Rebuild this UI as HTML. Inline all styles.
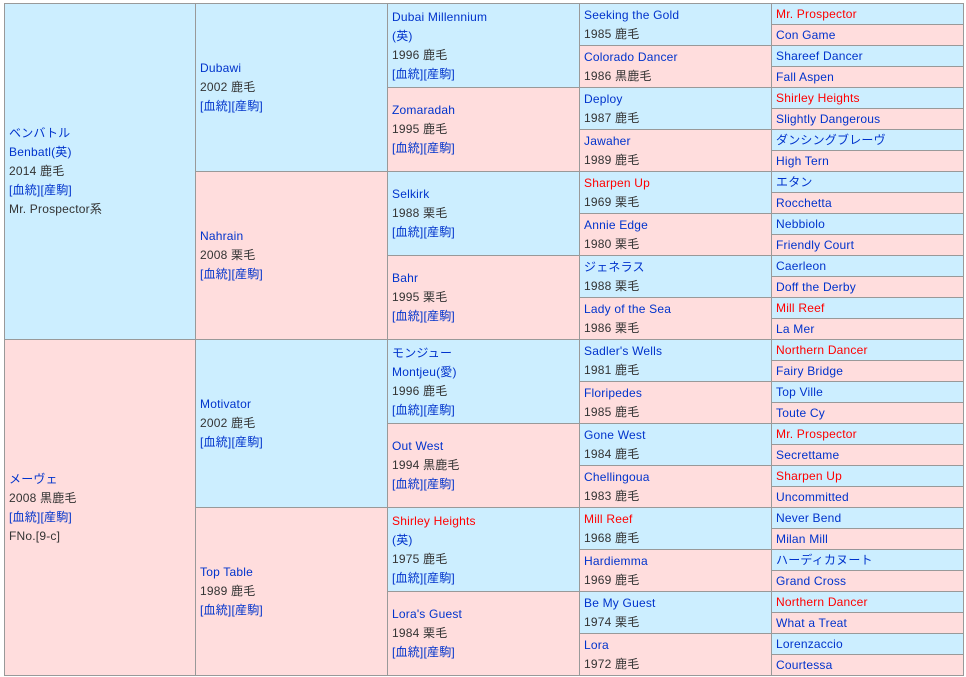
<!DOCTYPE html>
<html><head><meta charset="utf-8"><style>
body{margin:0;width:966px;height:677px;background:#fff;position:relative;overflow:hidden;font-family:"Liberation Sans","Noto Sans CJK JP",sans-serif;font-size:12px;color:#333}
.c{position:absolute;box-sizing:border-box;border:1px solid #999;display:flex;align-items:center;padding-left:4px;line-height:19px;letter-spacing:0.2px}
.b{background:#cceeff}.p{background:#ffdddd}
.g1{left:4px;width:192px;height:337px}.g2{left:195px;width:193px;height:169px}.g3{left:387px;width:193px;height:85px}.g4{left:579px;width:193px;height:43px}.g5{left:771px;width:193px;height:22px}
a,.l{color:#0033cc;text-decoration:none}.r{color:#ff0000}
</style></head><body>
<div class="c b g1" style="top:3px"><div><span class="l">ベンバトル<br>Benbatl(英)</span><br>2014 鹿毛<br><span class="l">[血統][産駒]</span><br>Mr. Prospector系</div></div>
<div class="c p g1" style="top:339px"><div><span class="l">メーヴェ</span><br>2008 黒鹿毛<br><span class="l">[血統][産駒]</span><br>FNo.[9-c]</div></div>

<div class="c b g2" style="top:3px"><div><span class="l">Dubawi</span><br>2002 鹿毛<br><span class="l">[血統][産駒]</span></div></div>
<div class="c p g2" style="top:171px"><div><span class="l">Nahrain</span><br>2008 栗毛<br><span class="l">[血統][産駒]</span></div></div>
<div class="c b g2" style="top:339px"><div><span class="l">Motivator</span><br>2002 鹿毛<br><span class="l">[血統][産駒]</span></div></div>
<div class="c p g2" style="top:507px"><div><span class="l">Top Table</span><br>1989 鹿毛<br><span class="l">[血統][産駒]</span></div></div>

<div class="c b g3" style="top:3px"><div><span class="l">Dubai Millennium<br>(英)</span><br>1996 鹿毛<br><span class="l">[血統][産駒]</span></div></div>
<div class="c p g3" style="top:87px"><div><span class="l">Zomaradah</span><br>1995 鹿毛<br><span class="l">[血統][産駒]</span></div></div>
<div class="c b g3" style="top:171px"><div><span class="l">Selkirk</span><br>1988 栗毛<br><span class="l">[血統][産駒]</span></div></div>
<div class="c p g3" style="top:255px"><div><span class="l">Bahr</span><br>1995 栗毛<br><span class="l">[血統][産駒]</span></div></div>
<div class="c b g3" style="top:339px"><div><span class="l">モンジュー<br>Montjeu(愛)</span><br>1996 鹿毛<br><span class="l">[血統][産駒]</span></div></div>
<div class="c p g3" style="top:423px"><div><span class="l">Out West</span><br>1994 黒鹿毛<br><span class="l">[血統][産駒]</span></div></div>
<div class="c b g3" style="top:507px"><div><span class="r">Shirley Heights</span><br><span class="l">(英)</span><br>1975 鹿毛<br><span class="l">[血統][産駒]</span></div></div>
<div class="c p g3" style="top:591px"><div><span class="l">Lora's Guest</span><br>1984 栗毛<br><span class="l">[血統][産駒]</span></div></div>

<div class="c b g4" style="top:3px"><div><span class="l">Seeking the Gold</span><br>1985 鹿毛</div></div>
<div class="c p g4" style="top:45px"><div><span class="l">Colorado Dancer</span><br>1986 黒鹿毛</div></div>
<div class="c b g4" style="top:87px"><div><span class="l">Deploy</span><br>1987 鹿毛</div></div>
<div class="c p g4" style="top:129px"><div><span class="l">Jawaher</span><br>1989 鹿毛</div></div>
<div class="c b g4" style="top:171px"><div><span class="r">Sharpen Up</span><br>1969 栗毛</div></div>
<div class="c p g4" style="top:213px"><div><span class="l">Annie Edge</span><br>1980 栗毛</div></div>
<div class="c b g4" style="top:255px"><div><span class="l">ジェネラス</span><br>1988 栗毛</div></div>
<div class="c p g4" style="top:297px"><div><span class="l">Lady of the Sea</span><br>1986 栗毛</div></div>
<div class="c b g4" style="top:339px"><div><span class="l">Sadler's Wells</span><br>1981 鹿毛</div></div>
<div class="c p g4" style="top:381px"><div><span class="l">Floripedes</span><br>1985 鹿毛</div></div>
<div class="c b g4" style="top:423px"><div><span class="l">Gone West</span><br>1984 鹿毛</div></div>
<div class="c p g4" style="top:465px"><div><span class="l">Chellingoua</span><br>1983 鹿毛</div></div>
<div class="c b g4" style="top:507px"><div><span class="r">Mill Reef</span><br>1968 鹿毛</div></div>
<div class="c p g4" style="top:549px"><div><span class="l">Hardiemma</span><br>1969 鹿毛</div></div>
<div class="c b g4" style="top:591px"><div><span class="l">Be My Guest</span><br>1974 栗毛</div></div>
<div class="c p g4" style="top:633px"><div><span class="l">Lora</span><br>1972 鹿毛</div></div>

<div class="c b g5 r" style="top:3px">Mr. Prospector</div>
<div class="c p g5 l" style="top:24px">Con Game</div>
<div class="c b g5 l" style="top:45px">Shareef Dancer</div>
<div class="c p g5 l" style="top:66px">Fall Aspen</div>
<div class="c b g5 r" style="top:87px">Shirley Heights</div>
<div class="c p g5 l" style="top:108px">Slightly Dangerous</div>
<div class="c b g5 l" style="top:129px">ダンシングブレーヴ</div>
<div class="c p g5 l" style="top:150px">High Tern</div>
<div class="c b g5 l" style="top:171px">エタン</div>
<div class="c p g5 l" style="top:192px">Rocchetta</div>
<div class="c b g5 l" style="top:213px">Nebbiolo</div>
<div class="c p g5 l" style="top:234px">Friendly Court</div>
<div class="c b g5 l" style="top:255px">Caerleon</div>
<div class="c p g5 l" style="top:276px">Doff the Derby</div>
<div class="c b g5 r" style="top:297px">Mill Reef</div>
<div class="c p g5 l" style="top:318px">La Mer</div>
<div class="c b g5 r" style="top:339px">Northern Dancer</div>
<div class="c p g5 l" style="top:360px">Fairy Bridge</div>
<div class="c b g5 l" style="top:381px">Top Ville</div>
<div class="c p g5 l" style="top:402px">Toute Cy</div>
<div class="c b g5 r" style="top:423px">Mr. Prospector</div>
<div class="c p g5 l" style="top:444px">Secrettame</div>
<div class="c b g5 r" style="top:465px">Sharpen Up</div>
<div class="c p g5 l" style="top:486px">Uncommitted</div>
<div class="c b g5 l" style="top:507px">Never Bend</div>
<div class="c p g5 l" style="top:528px">Milan Mill</div>
<div class="c b g5 l" style="top:549px">ハーディカヌート</div>
<div class="c p g5 l" style="top:570px">Grand Cross</div>
<div class="c b g5 r" style="top:591px">Northern Dancer</div>
<div class="c p g5 l" style="top:612px">What a Treat</div>
<div class="c b g5 l" style="top:633px">Lorenzaccio</div>
<div class="c p g5 l" style="top:654px">Courtessa</div>
</body></html>
